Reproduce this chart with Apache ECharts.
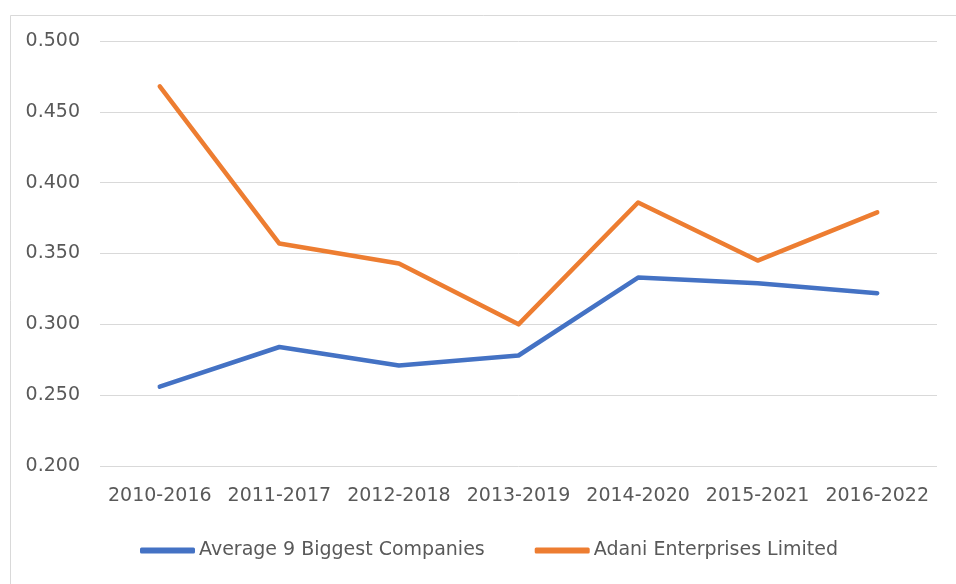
<!DOCTYPE html>
<html><head><meta charset="utf-8">
<script src="https://cdn.jsdelivr.net/npm/echarts@6/dist/echarts.min.js"></script>
<style>html,body{margin:0;padding:0;background:#fff}#c{width:956px;height:584px}</style>
</head><body><div id="c"></div>
<script>
const categories = ['2010-2016','2011-2017','2012-2018','2013-2019','2014-2020','2015-2021','2016-2022'];
const avgBiggest = [0.256, 0.284, 0.271, 0.278, 0.333, 0.329, 0.322];
const adani = [0.468, 0.357, 0.343, 0.300, 0.386, 0.345, 0.379];
const seriesNames = ['Average 9 Biggest Companies', 'Adani Enterprises Limited'];
const yTicks = {min: 0.2, max: 0.5, interval: 0.05};

const chart = echarts.init(document.getElementById('c'));
const font = 'DejaVu Sans, sans-serif';
chart.setOption({
  animation: false,
  backgroundColor: '#fff',
  graphic: [{type:'rect', left: 8, top: 13, shape:{width: 960, height: 580}, style:{fill:'none', stroke:'#d9d9d9', lineWidth:1}, silent:true}],
  grid: {left: 100, right: 19, top: 41, bottom: 118, containLabel: false},
  legend: {
    top: 536, left: 135, itemGap: 50, itemWidth: 55, itemHeight: 6,
    icon: 'roundRect',
    textStyle: {color: '#595959', fontSize: 19, fontFamily: font, padding:[0,0,0,-1]},
    data: seriesNames
  },
  xAxis: {
    type: 'category', data: categories, boundaryGap: true,
    axisLine: {show: false}, axisTick: {show: false},
    axisLabel: {color: '#595959', fontSize: 19, fontFamily: font, margin: 21, interval: 0, hideOverlap: false}
  },
  yAxis: {
    type: 'value', min: yTicks.min, max: yTicks.max, interval: yTicks.interval,
    axisLine: {show: false}, axisTick: {show: false},
    splitLine: {lineStyle: {color: '#d9d9d9', width: 1}},
    axisLabel: {color: '#595959', fontSize: 19, fontFamily: font, margin: 20,
      formatter: v => v.toFixed(3)}
  },
  series: [
    {name: seriesNames[0], type: 'line', data: avgBiggest, symbol: 'none',
     lineStyle: {color: '#4472c4', width: 4.5, cap: 'round', join: 'round'}, itemStyle: {color: '#4472c4'}},
    {name: seriesNames[1], type: 'line', data: adani, symbol: 'none',
     lineStyle: {color: '#ed7d31', width: 4.5, cap: 'round', join: 'round'}, itemStyle: {color: '#ed7d31'}}
  ]
});
</script></body></html>
